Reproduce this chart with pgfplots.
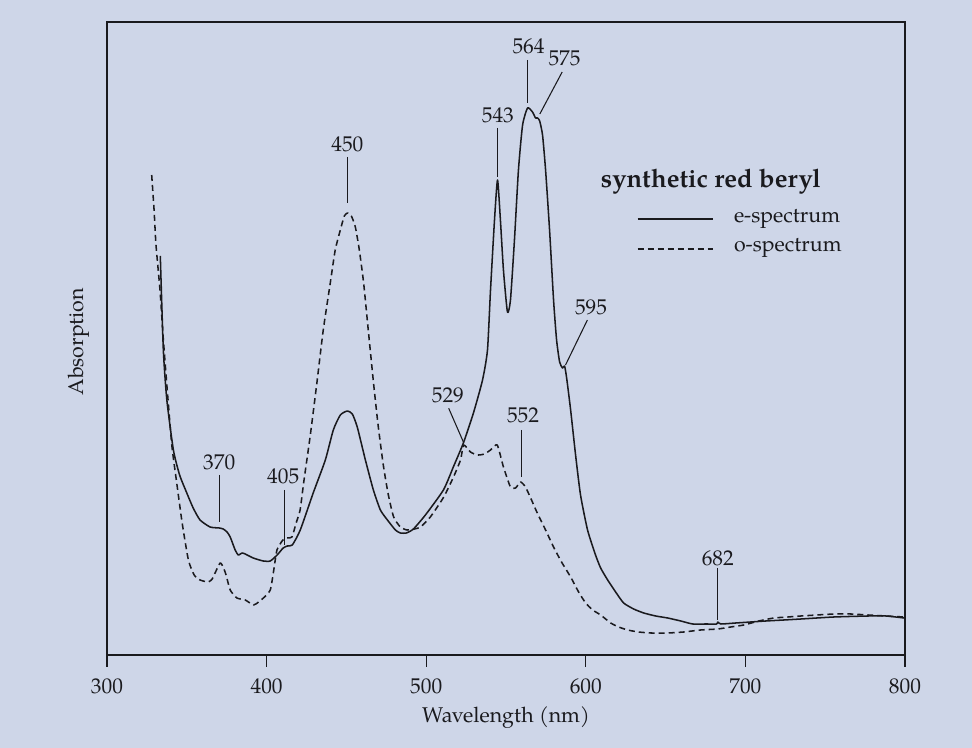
\documentclass[border=0pt]{standalone}
\usepackage{fontspec}
\setmainfont{texgyrepagella}[Extension=.otf, UprightFont=*-regular, BoldFont=*-bold, ItalicFont=*-italic, BoldItalicFont=*-bolditalic]
\usepackage{pgfplots}
\pgfplotsset{compat=1.18}

\definecolor{paper}{RGB}{206,214,232}
\definecolor{ink}{RGB}{26,26,30}

\newcommand{\lab}{\fontsize{16pt}{18pt}\selectfont}
\tikzset{
  annot/.style={ink, line width=0.8pt},
  num/.style={font=\lab, text=ink, anchor=base, inner sep=0pt},
}

\begin{document}
\begin{tikzpicture}
% page background
\fill[paper] (-80.25pt,-69.75pt) rectangle (648.75pt,491.25pt);
\begin{axis}[
  at={(0,0)}, anchor=south west,
  scale only axis,
  width=598.5pt, height=474.75pt,
  xmin=300, xmax=800, ymin=0, ymax=633,
  axis line style={ink, line width=1.1pt},
  xtick={300,400,...,800},
  ytick=\empty,
  xtick pos=bottom,
  tick align=outside,
  major tick length=9pt,
  every tick/.style={ink, line width=0.9pt},
  /pgf/number format/assume math mode=true,
  xticklabel style={font=\lab, text=ink, anchor=base, yshift=-20pt},
  every axis x label/.style={at={(axis description cs:0.5,0)}, anchor=base, yshift=-51pt, font=\lab, text=ink},
  every axis y label/.style={at={(axis description cs:-0.030,0.495)}, rotate=90, anchor=base, font=\lab, text=ink},
  xlabel={Wavelength (nm)},
  ylabel={Absorption},
  clip=false,
]

% e-spectrum
\addplot[ink, line width=1.15pt, line join=round, smooth, tension=0.35] coordinates {
(333.4,399)(335.3,305)(337.5,255)(341.6,205)(345.5,180)(350.0,162)(354.0,147)(358.3,135)
(364.6,128)(370.3,127)(372.8,126)(375.2,123)(377.2,118)(380.3,105)(382.2,100)(383.5,101)
(384.7,102)(386.6,101)(391.6,97)(397.9,94)(402.3,94)(406.6,100)(410.4,107)(413.0,109)
(416.1,110)(421.1,125)(429.2,162)(436.8,195)(441.8,225)(446.2,240)(450.6,244)(453.7,241)
(456.8,228)(461.9,195)(466.9,165)(471.3,145)(475.7,135)(480.7,125)(483.8,122)(487.6,122)
(492.0,126)(499.5,140)(510.8,165)(517.0,188)(523.3,212)(529.6,242)(535.3,275)(538.4,305)
(540.3,365)(542.8,435)(544.7,475)(546.5,435)(548.4,385)(550.9,343)(552.8,355)(555.3,415)
(557.8,485)(560.4,530)(563.5,547)(566.6,543)(568.5,537)(569.8,537)(571.1,534)(572.9,520)
(574.8,485)(577.3,425)(579.8,355)(581.7,315)(583.6,293)(585.4,287)(586.7,289)(588.0,277)
(590.5,245)(593.6,200)(596.7,160)(601.1,125)(606.1,100)(609.3,87)(613.7,75)(618.7,63)
(623.7,52)(630.0,46)(636.3,42)(643.8,39)(651.3,37)(659.5,34)(667.0,31)(675.2,31)
(682.0,31)(682.7,33)(684.6,31)(694.0,32)(703.4,33)(712.8,34)(724.1,35)(734.8,36)
(755.5,38)(776.8,39)(788.1,39)(799.4,37)
};

% o-spectrum
\addplot[ink, line width=1.15pt, dash pattern=on 4.5pt off 3pt, line join=round, smooth, tension=0.35] coordinates {
(328.0,480)(329.5,445)(330.7,410)(333.2,365)(335.1,320)(337.4,272)(340.6,210)(343.7,172)
(347.1,132)(351.0,95)(354.6,80)(358.3,75)(363.4,73)(365.9,76)(368.0,83)(370.9,92)
(372.8,88)(374.6,80)(377.2,65)(381.4,57)(386.6,55)(391.8,50)(395.0,53)(398.0,57)
(402.3,65)(404.5,85)(406.5,105)(410.2,115)(413.0,117)(415.9,118)(418.5,132)(421.0,145)
(423.2,172)(427.4,220)(431.5,272)(435.5,325)(439.9,372)(443.0,405)(446.2,425)(448.7,439)
(450.8,442)(453.1,439)(455.6,428)(458.1,405)(460.8,372)(463.7,325)(467.0,272)(470.0,228)
(473.3,188)(476.3,160)(479.6,138)(483.8,128)(488.0,125)(492.6,126)(496.4,128)(502.6,138)
(511.0,158)(517.1,178)(521.5,195)(523.5,210)(527.7,203)(532.1,200)(536.5,201)(540.3,205)
(544.5,210)(548.4,188)(552.8,168)(556.0,167)(559.1,173)(562.2,168)(566.0,155)(569.6,142)
(574.8,125)(579.8,108)(584.8,93)(590.5,78)(595.5,63)(599.9,52)(604.3,45)(609.3,40)
(615.6,32)(620.6,28)(626.2,25)(633.1,23)(640.7,22)(651.3,22)(661.4,23)(672.0,25)
(682.7,26)(690.8,28)(699.0,30)(708.4,34)(717.8,37)(726.6,38)(734.8,39)(755.5,41)
(766.1,41)(776.8,40)(788.1,39)(799.4,38)
};

% band labels
\draw[annot] (370.3,180) -- (370.3,133);
\node[num] at (370.3,185) {370};
\draw[annot] (411.2,165) -- (411.2,110);
\node[num] at (410.4,171) {405};
\draw[annot] (450.6,498) -- (450.6,452);
\node[num] at (450.6,503) {450};
\draw[annot] (514.1,246.7) -- (523.5,212.3);
\node[num] at (513.6,252) {529};
\draw[annot] (544.9,527) -- (544.9,478);
\node[num] at (544.9,532) {543};
\draw[annot] (559.7,225) -- (559.7,178);
\node[num] at (560.7,232) {552};
\draw[annot] (563.7,595) -- (563.7,552);
\node[num] at (564.1,601) {564};
\draw[annot] (585.2,583) -- (571.2,541);
\node[num] at (586.7,589) {575};
\draw[annot] (601.0,335) -- (587.3,290);
\node[num] at (603.3,340) {595};
\draw[annot] (682.7,87) -- (682.7,35);
\node[num] at (682.7,89) {682};

% key
\node[font=\fontsize{19.2pt}{22pt}\selectfont\bfseries, text=ink, anchor=base west, inner sep=0pt] at (609.3,467) {synthetic red beryl};
\draw[ink, line width=1.15pt] (632.5,436) -- (679.5,436);
\node[num, anchor=base west] at (692.7,432) {e-spectrum};
\draw[ink, line width=1.15pt, dash pattern=on 4.5pt off 3pt] (632.5,406) -- (679.5,406);
\node[num, anchor=base west] at (692.7,403) {o-spectrum};
\end{axis}
\pgfresetboundingbox
\path[use as bounding box] (-80.25pt,-69.75pt) rectangle (648.75pt,491.25pt);
\end{tikzpicture}
\end{document}
